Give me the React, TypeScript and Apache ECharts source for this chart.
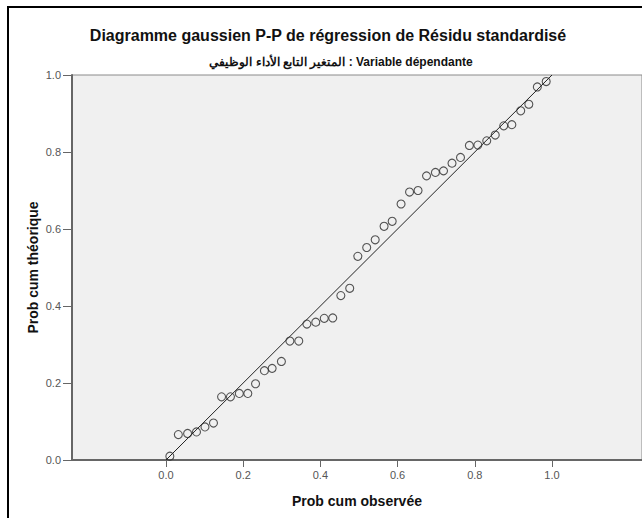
import React, { useEffect, useRef } from "react";
import * as echarts from "echarts";

const titleText = "Diagramme gaussien P-P de régression de Résidu standardisé";
const subtitleText = "المتغير التابع الأداء الوظيفي : Variable dépendante";
const xAxisName = "Prob cum observée";
const yAxisName = "Prob cum théorique";
const tickValues = [0, 0.2, 0.4, 0.6, 0.8, 1.0];

const observedProb = [
  0.010, 0.032, 0.056, 0.079, 0.101, 0.123, 0.144, 0.167, 0.190, 0.212, 0.232, 0.255, 0.275,
  0.299, 0.321, 0.344, 0.365, 0.388, 0.410, 0.432, 0.453, 0.476, 0.497,
  0.520, 0.542, 0.565, 0.586, 0.609, 0.631, 0.653, 0.675, 0.698, 0.719, 0.741, 0.763,
  0.786, 0.808, 0.831, 0.853, 0.875, 0.896, 0.919, 0.940, 0.962, 0.985,
];
const expectedProb = [
  0.010, 0.066, 0.069, 0.073, 0.086, 0.096, 0.164, 0.164, 0.173, 0.173, 0.198, 0.232, 0.238,
  0.256, 0.309, 0.309, 0.353, 0.358, 0.368, 0.369, 0.427, 0.446, 0.529,
  0.552, 0.572, 0.607, 0.620, 0.665, 0.696, 0.700, 0.738, 0.747, 0.751, 0.771, 0.786,
  0.817, 0.818, 0.829, 0.844, 0.868, 0.871, 0.907, 0.924, 0.969, 0.983,
];
const refLine = [
  [0, 0],
  [1, 1],
];

export default function App() {
  const ref = useRef<HTMLDivElement>(null);
  useEffect(() => {
    if (!ref.current) return;
    const chart = echarts.init(ref.current, null, { renderer: "svg" });
    const font = "'Liberation Sans', Arial, sans-serif";
    chart.setOption({
      animation: false,
      backgroundColor: "#ffffff",
      textStyle: { fontFamily: font },
      title: [
        {
          text: titleText,
          left: 323,
          textAlign: "center",
          top: 22,
          textStyle: { fontSize: 16, fontWeight: "bold", color: "#111", fontFamily: font },
        },
        {
          text: subtitleText,
          left: 336,
          textAlign: "center",
          top: 51,
          textStyle: { fontSize: 12, fontWeight: "bold", color: "#111", fontFamily: font },
        },
      ],
      grid: {
        left: 72,
        right: 0,
        top: 75,
        bottom: 58,
        show: true,
        backgroundColor: "#f0f0f0",
        borderColor: "#8a8a8a",
        borderWidth: 1,
      },
      xAxis: {
        type: "value",
        min: -0.2435,
        max: 1.2332,
        name: xAxisName,
        nameLocation: "middle",
        nameGap: 34,
        nameTextStyle: { fontSize: 14, fontWeight: "bold", color: "#111", fontFamily: font },
        axisLine: { show: true, onZero: false, lineStyle: { color: "#666", width: 2 } },
        axisTick: { show: true, length: 7, customValues: tickValues, lineStyle: { color: "#666", width: 1 } },
        axisLabel: {
          customValues: tickValues,
          formatter: (v: number) => v.toFixed(1),
          fontSize: 11,
          color: "#555",
          margin: 9,
        },
        splitLine: { show: false },
      },
      yAxis: {
        type: "value",
        min: 0,
        max: 1,
        interval: 0.2,
        name: yAxisName,
        nameLocation: "middle",
        nameGap: 32,
        nameMoveOverlap: false,
        nameRotate: 90,
        nameTextStyle: { fontSize: 14, fontWeight: "bold", color: "#111", fontFamily: font },
        axisLine: { show: true, onZero: false, lineStyle: { color: "#666", width: 2 } },
        axisTick: { show: true, length: 9, lineStyle: { color: "#666", width: 1 } },
        axisLabel: {
          formatter: (v: number) => v.toFixed(1),
          fontSize: 11,
          color: "#555",
          margin: 11,
        },
        splitLine: { show: false },
      },
      graphic: [
        {
          type: "rect",
          shape: { x: 8, y: 7, width: 700, height: 600 },
          style: { fill: "none", stroke: "#000", lineWidth: 2 },
          silent: true,
          z: 100,
        },
      ],
      series: [
        {
          type: "line",
          data: refLine,
          symbol: "none",
          lineStyle: { color: "#222", width: 1 },
          z: 2,
        },
        {
          type: "scatter",
          data: observedProb.map((x, i) => [x, expectedProb[i]]),
          symbol: "circle",
          symbolSize: 8,
          itemStyle: { color: "rgba(0,0,0,0)", borderColor: "#2a2a2a", borderWidth: 1.1 },
          z: 3,
        },
      ],
    });
    return () => chart.dispose();
  }, []);
  return (
    <div
      ref={ref}
      style={{ position: "fixed", left: 0, top: 0, width: 642, height: 518 }}
    />
  );
}
